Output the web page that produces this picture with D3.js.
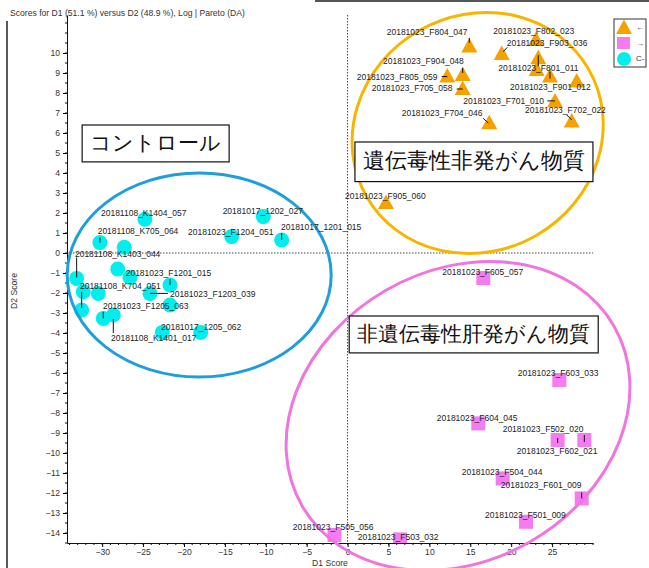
<!DOCTYPE html>
<html><head><meta charset="utf-8">
<script src="https://cdn.jsdelivr.net/npm/d3@7"></script>
<style>
body{margin:0;background:#fff;}
svg{display:block;}
text{font-family:"Liberation Sans",Arial,sans-serif;}
</style></head>
<body>
<svg id="chart" width="649" height="568"></svg>
<script>
// ---------------- data ----------------
const title = "Scores for D1 (51.1 %) versus D2 (48.9 %), Log | Pareto (DA)";
const xLabel = "D1 Score";
const yLabel = "D2 Score";
const xTicks = [-30,-25,-20,-15,-10,-5,0,5,10,15,20,25];
const yTicks = [10,9,8,7,6,5,4,3,2,1,0,-1,-2,-3,-4,-5,-6,-7,-8,-9,-10,-11,-12,-13,-14];
const legendLabels = ["←","→","C-"];

// genotoxic non-carcinogens (triangles)
const triNames = ["20181023_F804_047","20181023_F903_036","20181023_F802_023","20181023_F801_011","","20181023_F901_012","","20181023_F701_010","20181023_F702_022","20181023_F704_046","20181023_F904_048","20181023_F805_059","20181023_F705_058","20181023_F905_060"];
const triX = [14.88,18.84,23.03,23.31,23.12,24.74,28.01,25.35,27.40,17.32,14.07,12.19,14.07,4.69];
const triY = [10.32,9.95,10.65,9.74,9.15,8.82,8.57,7.57,6.57,6.49,8.90,8.82,8.20,2.50];

// non-genotoxic hepatocarcinogens (squares)
const sqNames = ["20181023_F605_057","20181023_F603_033","20181023_F604_045","20181023_F502_020","20181023_F602_021","20181023_F504_044","20181023_F601_009","20181023_F501_009","20181023_F505_056","20181023_F503_032"];
const sqX = [16.59,25.88,15.98,25.68,28.94,18.96,28.62,21.81,-1.60,6.41];
const sqY = [-1.25,-6.35,-8.52,-9.35,-9.35,-11.27,-12.27,-13.44,-14.10,-14.32];

// controls (circles)
const cirNames = ["20181108_K1403_044","","20181108_K704_051","","20181023_F1205_063","20181108_K1401_017","20181108_K705_064","","","","20181108_K1404_057","20181023_F1203_039","20181023_F1201_015","","","20181017_1205_062","20181023_F1204_051","20181017_1202_027","20181017_1201_015"];
const cirX = [-33.12,-32.31,-32.51,-30.48,-29.87,-28.64,-30.27,-27.30,-28.10,-26.60,-24.77,-24.16,-21.71,-21.71,-22.65,-17.96,-14.17,-10.31,-8.06];
const cirY = [-1.27,-1.94,-2.85,-2.02,-3.27,-3.10,0.52,0.29,-0.80,-1.22,1.69,-2.02,-1.60,-2.60,-3.97,-3.97,0.82,1.82,0.65];

// group annotations
const groupNames = ["コントロール","遺伝毒性非発がん物質","非遺伝毒性肝発がん物質"];

// ---------------- layout ----------------
const W = 649, H = 568;
const plot = {left:67, right:593, top:15, bottom:543};
const svg = d3.select("#chart");
const x = d3.scaleLinear().domain([-34.3, 30]).range([plot.left, plot.right]);
const y = d3.scaleLinear().domain([-14.5, 11.9]).range([plot.bottom, plot.top]);

// label placement (pixel offsets from marker: dx, dy of text start/baseline; optional leader [x1,y1,x2,y2])
const labelPos = {
 "20181108_K1403_044":[-1.7,-21.3,[0,-21,0,-1]],
 "20181108_K704_051":[-1.7,-21,[0,-18,0,-2]],
 "20181108_K1404_057":[-44,-3],
 "20181108_K705_064":[-2.3,-8.7,[0,-5,0,0]],
 "20181023_F1201_015":[-44.3,-9.3,[0,-6,0,0]],
 "20181023_F1203_039":[20,3.7,[0,0,18,0]],
 "20181023_F1205_063":[-0.3,-9.6,[0,-6.6,0,0]],
 "20181108_K1401_017":[-2.3,25.7,[0,4,0,18]],
 "20181017_1205_062":[-39.7,-2],
 "20181023_F1204_051":[-43.7,-2],
 "20181017_1202_027":[-40.6,-2.7],
 "20181017_1201_015":[-0.7,-9.7,[0,-7,0,0]],
 "20181023_F605_057":[-41,-3.3],
 "20181023_F603_033":[-41.6,-3.7],
 "20181023_F604_045":[-41.6,-2],
 "20181023_F502_020":[-55,-7.7,[0,-2,0,3]],
 "20181023_F602_021":[-67.6,13.7,[0,-5,0,2]],
 "20181023_F504_044":[-41,-3.6],
 "20181023_F601_009":[-81,-10.3,[0,-6,0,0]],
 "20181023_F501_009":[-41,-3.7],
 "20181023_F505_056":[-41.8,-5.3],
 "20181023_F503_032":[-42.3,1],
 "20181023_F804_047":[-82.6,-12,[0,-8.7,0,-3.7]],
 "20181023_F903_036":[5,-7.7,[1.6,-2.3,5.6,-6.7]],
 "20181023_F802_023":[-42.7,-6.3],
 "20181023_F801_011":[-40,13,[0,-3,0,8]],
 "20181023_F901_012":[-40,13.6,[0,-5,0,2]],
 "20181023_F701_010":[-91.7,2.3,[-7.7,-0.7,0,-0.7]],
 "20181023_F702_022":[-46.7,-8.7,[-5,-6.7,0,-1.7]],
 "20181023_F704_046":[-87.6,-7,[-6,-5,-1,0]],
 "20181023_F904_048":[-79.7,-11,[0,-7,0,-2]],
 "20181023_F805_059":[-90.6,3,[-5.6,0,0,0]],
 "20181023_F705_058":[-91,2.3,[-6,0,0,0]],
 "20181023_F905_060":[-41,-4]
};

const colTri = "#F5A100", colSq = "#F57CF0", colCir = "#00EEEE";
const ellOrange = "#F7B500", ellPink = "#F075E0", ellBlue = "#1E9FDC";

// title and frame
svg.append("text").attr("x",10).attr("y",16).attr("font-size",8.6).attr("fill","#333").text(title);
svg.append("line").attr("x1",7).attr("x2",7).attr("y1",21).attr("y2",H).attr("stroke","#222").attr("stroke-width",1.5);
svg.append("line").attr("x1",315).attr("x2",W).attr("y1",1).attr("y2",1).attr("stroke","#555").attr("stroke-width",2);

// zero reference lines
svg.append("line").attr("x1",x(0)).attr("x2",x(0)).attr("y1",plot.top).attr("y2",plot.bottom)
  .attr("stroke","#444").attr("stroke-dasharray","1.5,1.5");
svg.append("line").attr("x1",plot.left).attr("x2",plot.right).attr("y1",y(0)).attr("y2",y(0))
  .attr("stroke","#444").attr("stroke-dasharray","1.5,1.5");

// axes
const xAxis = d3.axisBottom(x).tickValues(xTicks).tickSize(4).tickPadding(2).tickSizeOuter(0).tickFormat(d3.format("d"));
const gx = svg.append("g").attr("transform",`translate(0,${plot.bottom})`).call(xAxis);
gx.selectAll("text").attr("font-size",8.6).attr("fill","#333");
gx.select(".domain").attr("stroke","#111");
const xMinor = d3.range(-34,31,1);
svg.append("g").selectAll("line").data(xMinor).join("line")
  .attr("x1",d=>x(d)).attr("x2",d=>x(d)).attr("y1",plot.bottom).attr("y2",plot.bottom+2).attr("stroke","#111");

const yAxis = d3.axisLeft(y).tickValues(yTicks).tickSize(4).tickSizeOuter(0).tickFormat(d3.format("d"));
const gy = svg.append("g").attr("transform",`translate(${plot.left},0)`).call(yAxis);
gy.selectAll("text").attr("font-size",8.6).attr("fill","#333");
gy.select(".domain").attr("stroke","#111");
const yMinor = d3.range(-14.5,12,0.5);
svg.append("g").selectAll("line").data(yMinor).join("line")
  .attr("x1",plot.left-2).attr("x2",plot.left).attr("y1",d=>y(d)).attr("y2",d=>y(d)).attr("stroke","#111");

svg.append("text").attr("x",(plot.left+plot.right)/2).attr("y",566).attr("text-anchor","middle")
  .attr("font-size",8.6).attr("fill","#333").text(xLabel);
svg.append("text").attr("transform",`translate(17,${(plot.top+plot.bottom)/2+12}) rotate(-90)`).attr("text-anchor","middle")
  .attr("font-size",8.6).attr("fill","#333").text(yLabel);

// clip
svg.append("clipPath").attr("id","clip").append("rect")
  .attr("x",plot.left).attr("y",plot.top).attr("width",plot.right-plot.left).attr("height",plot.bottom-plot.top);

const pts = [];
triNames.forEach((n,i)=>pts.push({n, x:triX[i], y:triY[i], t:"tri"}));
sqNames.forEach((n,i)=>pts.push({n, x:sqX[i], y:sqY[i], t:"sq"}));
cirNames.forEach((n,i)=>pts.push({n, x:cirX[i], y:cirY[i], t:"cir"}));

const gm = svg.append("g").attr("clip-path","url(#clip)");
const triPath = "M0,-8.5L8,6L-8,6Z";
gm.selectAll("path.tri").data(pts.filter(p=>p.t==="tri")).join("path").attr("class","tri")
  .attr("d",triPath).attr("transform",d=>`translate(${x(d.x)},${y(d.y)})`).attr("fill",colTri);
gm.selectAll("rect.sq").data(pts.filter(p=>p.t==="sq")).join("rect").attr("class","sq")
  .attr("x",d=>x(d.x)-7).attr("y",d=>y(d.y)-7).attr("width",14).attr("height",14).attr("fill",colSq);
gm.selectAll("circle.cir").data(pts.filter(p=>p.t==="cir")).join("circle").attr("class","cir")
  .attr("cx",d=>x(d.x)).attr("cy",d=>y(d.y)).attr("r",7.5).attr("fill",colCir);

// group ellipses (centre in data units, radii in px, rotation in degrees)
const ellipses = [
  {cx:-18.14, cy:-1.1, rx:132, ry:102, rot:0, c:ellBlue},
  {cx:15.9, cy:6.0, rx:128, ry:118, rot:-30, c:ellOrange},
  {cx:13.5, cy:-8.15, rx:180, ry:145, rot:-30, c:ellPink}
];
svg.append("g").selectAll("ellipse").data(ellipses).join("ellipse")
  .attr("transform",d=>`translate(${x(d.cx)},${y(d.cy)}) rotate(${d.rot})`)
  .attr("rx",d=>d.rx).attr("ry",d=>d.ry).attr("fill","none").attr("stroke",d=>d.c).attr("stroke-width",3);

// labels and leaders
const lab = pts.filter(p=>p.n && labelPos[p.n]);
svg.append("g").selectAll("line").data(lab.filter(p=>labelPos[p.n][2])).join("line")
  .attr("x1",d=>x(d.x)+labelPos[d.n][2][0]).attr("y1",d=>y(d.y)+labelPos[d.n][2][1])
  .attr("x2",d=>x(d.x)+labelPos[d.n][2][2]).attr("y2",d=>y(d.y)+labelPos[d.n][2][3])
  .attr("stroke","#111").attr("stroke-width",1);
svg.append("g").selectAll("text").data(lab).join("text")
  .attr("x",d=>x(d.x)+labelPos[d.n][0]).attr("y",d=>y(d.y)+labelPos[d.n][1])
  .attr("font-size",8.5).attr("fill","#222").text(d=>d.n);

// group boxes
const boxes = [
  {t:groupNames[0], x:-32.45, y:6.4, fs:20.5},
  {t:groupNames[1], x:0.9, y:5.55, fs:22},
  {t:groupNames[2], x:0.2, y:-3.15, fs:20.5}
];
boxes.forEach(b=>{
  const g = svg.append("g");
  const r = g.append("rect").attr("fill","#fff").attr("stroke","#111").attr("stroke-width",1.2);
  const t = g.append("text").attr("font-family","'Noto Sans CJK JP'").attr("font-size",b.fs).attr("fill","#111")
    .attr("x",x(b.x)+8).attr("y",y(b.y)+b.fs*1.2).text(b.t);
  const bb = t.node().getBBox();
  r.attr("x",x(b.x)).attr("y",y(b.y)).attr("width",bb.width+16).attr("height",b.fs*1.8);
});

// legend
const lg = svg.append("g");
lg.append("rect").attr("x",614).attr("y",19).attr("width",32).attr("height",48).attr("fill","#fff").attr("stroke","#333");
lg.append("path").attr("d",triPath).attr("transform","translate(624,28)").attr("fill",colTri);
lg.append("rect").attr("x",617).attr("y",37).attr("width",13).attr("height",12).attr("fill",colSq);
lg.append("circle").attr("cx",624).attr("cy",59).attr("r",7).attr("fill",colCir);
legendLabels.forEach((l,i)=>lg.append("text").attr("x",636).attr("y",30+i*15.5).attr("font-size",8).attr("fill","#333").text(l));
</script>
</body></html>
